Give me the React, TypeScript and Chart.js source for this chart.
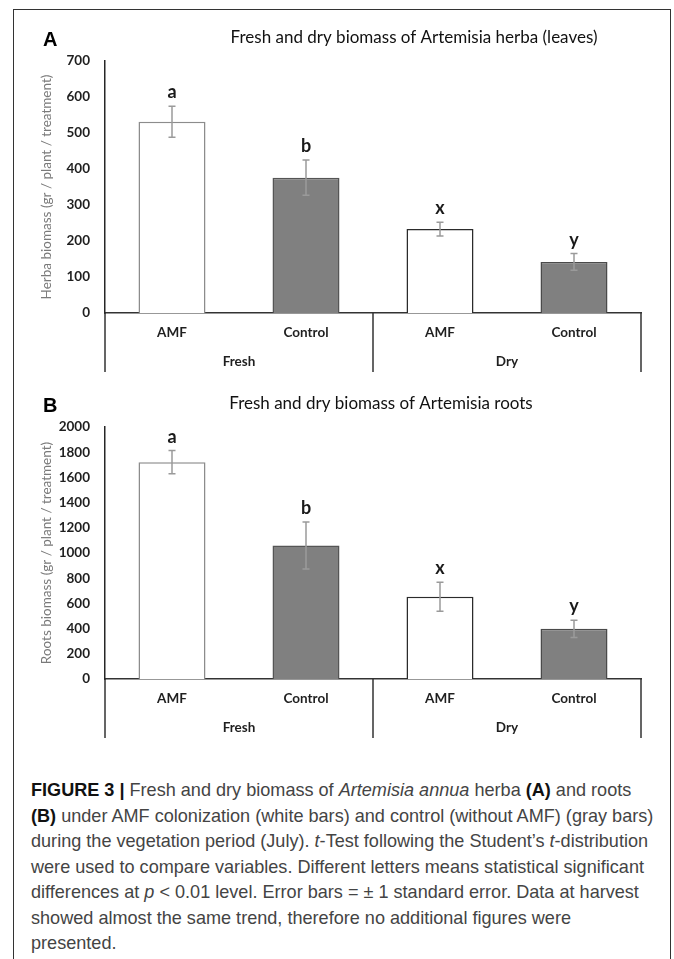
import React, { useEffect, useLayoutEffect, useRef, useState } from "react";
import { Chart, registerables } from "chart.js";

Chart.register(...registerables);

// ---------- data ----------
const categories = ["AMF", "Control", "AMF", "Control"];
const groups = ["Fresh", "Dry"];

const herbaTitle = "Fresh and dry biomass of Artemisia herba (leaves)";
const herbaAxisTitle = "Herba biomass (gr / plant / treatment)";
const herbaValues = [531, 376, 233, 142];
const herbaErrors = [43, 49, 19, 23];
const herbaLetters = ["a", "b", "x", "y"];
const herbaMax = 700;
const herbaStep = 100;

const rootsTitle = "Fresh and dry biomass of Artemisia roots";
const rootsAxisTitle = "Roots biomass (gr / plant / treatment)";
const rootsValues = [1721, 1060, 653, 398];
const rootsErrors = [92, 187, 115, 68];
const rootsLetters = ["a", "b", "x", "y"];
const rootsMax = 2000;
const rootsStep = 200;

// ---------- styles ----------
const FONT = "Lato, 'Open Sans', sans-serif";
const barFills = ["#ffffff", "#808080", "#ffffff", "#808080"];
const barBorders = ["#8c8c8c", "#555555", "#2b2b2b", "#4a4a4a"];

const annotatePlugin = {
  id: "annotate",
  afterDraw(chart: any, _args: any, opts: any) {
    const ctx = chart.ctx as CanvasRenderingContext2D;
    const x = chart.scales.x;
    const y = chart.scales.y;
    const area = chart.chartArea;
    const meta = chart.getDatasetMeta(0);
    const values = chart.data.datasets[0].data as number[];

    ctx.save();
    // multi-level category axis lines
    const divider = (x.getPixelForValue(1) + x.getPixelForValue(2)) / 2;
    ctx.strokeStyle = "#333333";
    ctx.lineWidth = 1.5;
    ctx.beginPath();
    [area.left, divider, area.right].forEach((px: number) => {
      ctx.moveTo(px, area.bottom);
      ctx.lineTo(px, area.bottom + 59);
    });
    ctx.stroke();

    // group labels
    ctx.fillStyle = "#1f1f1f";
    ctx.font = `bold 13.5px ${FONT}`;
    ctx.textAlign = "center";
    ctx.textBaseline = "middle";
    const groupCenters = [(area.left + divider) / 2, (divider + area.right) / 2];
    opts.groups.forEach((g: string, i: number) => {
      ctx.fillText(g, groupCenters[i], area.bottom + 49);
    });

    // error bars and letters
    meta.data.forEach((bar: any, i: number) => {
      const v = values[i];
      const e = opts.errors[i];
      const yTop = y.getPixelForValue(v + e);
      const yBot = y.getPixelForValue(v - e);
      ctx.strokeStyle = "#9a9a9a";
      ctx.lineWidth = 1.5;
      ctx.beginPath();
      ctx.moveTo(bar.x, yTop);
      ctx.lineTo(bar.x, yBot);
      ctx.moveTo(bar.x - 3.5, yTop);
      ctx.lineTo(bar.x + 3.5, yTop);
      ctx.moveTo(bar.x - 3.5, yBot);
      ctx.lineTo(bar.x + 3.5, yBot);
      ctx.stroke();

      ctx.fillStyle = "#1a1a1a";
      ctx.font = `bold 18px ${FONT}`;
      ctx.textAlign = "center";
      ctx.textBaseline = "alphabetic";
      ctx.fillText(opts.letters[i], bar.x, yTop - 8);
    });

    // chart title
    ctx.fillStyle = "#111111";
    ctx.font = `17px ${FONT}`;
    ctx.textAlign = "center";
    ctx.textBaseline = "middle";
    ctx.fillText(opts.title, opts.titleX, opts.titleY);

    // panel letter
    ctx.font = "bold 20px 'Liberation Sans', Arial, sans-serif";
    ctx.textAlign = "left";
    ctx.fillStyle = "#000000";
    ctx.fillText(opts.panel, 43, opts.titleY + 2);
    ctx.restore();
  },
};

type PanelProps = {
  top: number;
  values: number[];
  errors: number[];
  letters: string[];
  max: number;
  step: number;
  title: string;
  titleX: number;
  axisTitle: string;
  panel: string;
};

function Panel(p: PanelProps) {
  const ref = useRef<HTMLCanvasElement>(null);
  useEffect(() => {
    if (!ref.current) return;
    const chart = new Chart(ref.current, {
      type: "bar",
      data: {
        labels: categories,
        datasets: [
          {
            data: p.values,
            backgroundColor: barFills,
            borderColor: barBorders,
            borderWidth: 1.5,
            barPercentage: 0.5,
            categoryPercentage: 1,
          },
        ],
      },
      options: {
        responsive: false,
        animation: false,
        devicePixelRatio: 1,
        events: [],
        layout: { padding: { top: 61, right: 33, left: 0, bottom: 0 } },
        plugins: {
          legend: { display: false },
          tooltip: { enabled: false },
          title: { display: false },
          annotate: {
            errors: p.errors,
            letters: p.letters,
            groups,
            title: p.title,
            titleX: p.titleX,
            titleY: 38,
            panel: p.panel,
          },
        } as any,
        scales: {
          x: {
            grid: { display: false, drawTicks: false },
            border: { display: true, color: "#333333", width: 1.5 },
            ticks: {
              color: "#1f1f1f",
              font: { family: FONT, size: 13.5, weight: "bold" },
              padding: 12,
              maxRotation: 0,
            },
            afterFit: (s: any) => {
              s.height = 67;
            },
          },
          y: {
            min: 0,
            max: p.max,
            grid: { display: false, drawTicks: false },
            border: { display: true, color: "#262626", width: 1.5 },
            ticks: {
              stepSize: p.step,
              color: "#1f1f1f",
              font: { family: FONT, size: 13.5, weight: "bold" },
              padding: 15,
              callback: (v: any) => String(v),
            },
            title: {
              display: true,
              text: p.axisTitle,
              color: "#7a7a7a",
              font: { family: FONT, size: 13.5 },
              padding: { top: 39, bottom: 0 },
            },
            afterFit: (s: any) => {
              s.width = 105;
            },
          },
        },
      },
      plugins: [annotatePlugin as any],
    });
    return () => chart.destroy();
  }, []);
  return (
    <canvas
      ref={ref}
      width={674}
      height={380}
      style={{ position: "absolute", left: 0, top: p.top, width: 674, height: 380 }}
    />
  );
}

const captionLines: React.ReactNode[] = [
  <>
    <b style={{ color: "#111" }}>FIGURE 3 |</b> Fresh and dry biomass of <i>Artemisia annua</i> herba{" "}
    <b style={{ color: "#111" }}>(A)</b> and roots
  </>,
  <>
    <b style={{ color: "#111" }}>(B)</b> under AMF colonization (white bars) and control (without AMF) (gray bars)
  </>,
  <>
    during the vegetation period (July). <i>t</i>-Test following the Student’s <i>t</i>-distribution
  </>,
  <>were used to compare variables. Different letters means statistical significant</>,
  <>
    differences at <i>p</i> &lt; 0.01 level. Error bars = ± 1 standard error. Data at harvest
  </>,
  <>showed almost the same trend, therefore no additional figures were</>,
  <>presented.</>,
];

function Caption() {
  const ref = useRef<HTMLDivElement>(null);
  const [scale, setScale] = useState(1);
  useLayoutEffect(() => {
    const el = ref.current;
    if (!el) return;
    const line = el.children[2] as HTMLElement;
    const w = line.offsetWidth;
    if (w > 0) setScale(617 / w);
  }, []);
  return (
    <div
      ref={ref}
      style={{
        position: "absolute",
        left: 31,
        top: 777,
        transform: `scaleX(${scale})`,
        transformOrigin: "left top",
        fontFamily: "'Liberation Sans', Arial, sans-serif",
        fontSize: 18.5,
        lineHeight: "25.5px",
        color: "#444444",
      }}
    >
      {captionLines.map((l, i) => (
        <div key={i} style={{ whiteSpace: "nowrap", width: "max-content" }}>
          {l}
        </div>
      ))}
    </div>
  );
}

export default function App() {
  return (
    <div style={{ position: "absolute", left: 0, top: 0, width: 674, height: 959, overflow: "hidden", background: "#fff" }}>
      <div
        style={{
          position: "absolute",
          left: 13,
          top: 9,
          width: 658,
          height: 980,
          border: "1.5px solid #333",
          boxSizing: "border-box",
        }}
      />
      <Panel
        top={0}
        values={herbaValues}
        errors={herbaErrors}
        letters={herbaLetters}
        max={herbaMax}
        step={herbaStep}
        title={herbaTitle}
        titleX={414}
        axisTitle={herbaAxisTitle}
        panel="A"
      />
      <Panel
        top={366}
        values={rootsValues}
        errors={rootsErrors}
        letters={rootsLetters}
        max={rootsMax}
        step={rootsStep}
        title={rootsTitle}
        titleX={381}
        axisTitle={rootsAxisTitle}
        panel="B"
      />
      <Caption />
    </div>
  );
}
